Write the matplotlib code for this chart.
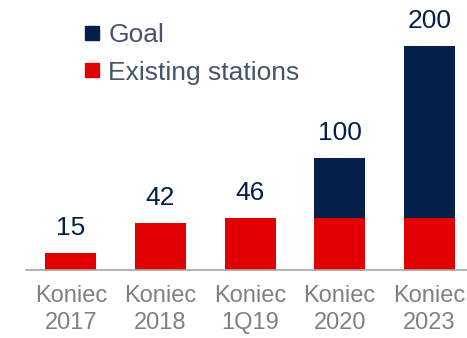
import matplotlib.pyplot as plt
from matplotlib.lines import Line2D

plt.rcParams['font.family'] = ['Liberation Sans', 'DejaVu Sans']

# Data
categories = ['Koniec\n2017', 'Koniec\n2018', 'Koniec\n1Q19', 'Koniec\n2020', 'Koniec\n2023']
existing = [15, 42, 46, 46, 46]
goal = [0, 0, 0, 54, 154]
totals = [15, 42, 46, 100, 200]

red = '#e00000'
navy = '#041f4a'

fig = plt.figure(figsize=(4.67, 3.38), dpi=100)
ax = fig.add_axes([26 / 467, 68 / 338, 441 / 467, 270 / 338])

x = range(len(categories))
ax.bar(x, existing, width=0.57, color=red)
ax.bar(x, goal, width=0.57, bottom=existing, color=navy)

for i, t in enumerate(totals):
    ax.annotate(str(t), (i, t), xytext=(0, 13), textcoords='offset points',
                ha='center', va='baseline', fontsize=19, color=navy)

ax.set_xlim(-0.5, 4.42)
ax.set_ylim(0, 241)
ax.set_xticks(list(x))
ax.set_xticklabels(categories, fontsize=17, color='#808080', linespacing=1.3)
ax.tick_params(axis='x', length=0, pad=11)
ax.set_yticks([])
for s in ['top', 'left', 'right']:
    ax.spines[s].set_visible(False)
ax.spines['bottom'].set_color('#a6a6a6')
ax.spines['bottom'].set_linewidth(1.2)

handles = [Line2D([], [], marker='s', linestyle='', markersize=10, color=navy),
           Line2D([], [], marker='s', linestyle='', markersize=10, color=red)]
leg = ax.legend(handles, ['Goal', 'Existing stations'], loc='upper left',
                bbox_to_anchor=(66 / 467, 1 - 5 / 338), bbox_transform=fig.transFigure,
                frameon=False, fontsize=19, handlelength=0.6, handletextpad=0.3,
                labelspacing=0.5, borderaxespad=0.3)
for txt in leg.get_texts():
    txt.set_color('#44546a')

fig.savefig('out.png', dpi=100)
